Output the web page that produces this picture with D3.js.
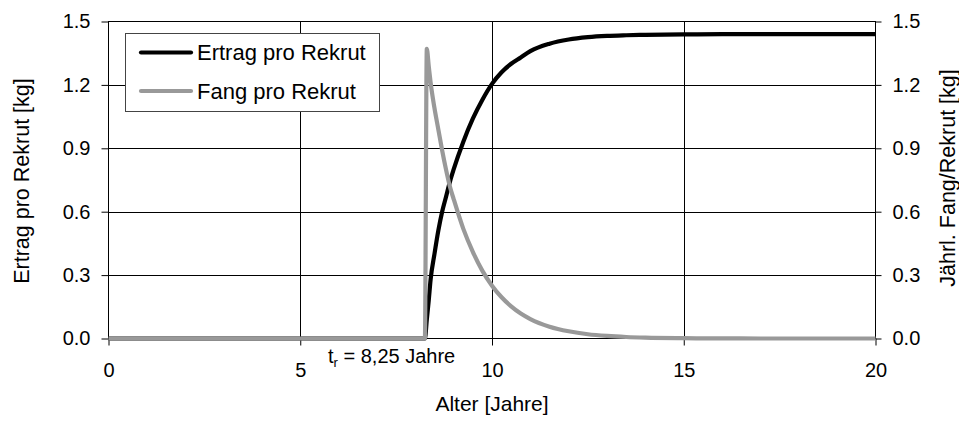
<!DOCTYPE html>
<html>
<head>
<meta charset="utf-8">
<script src="https://cdn.jsdelivr.net/npm/d3@7"></script>
<style>
  html, body { margin: 0; padding: 0; background: #fff; }
  svg { display: block; font-family: "Liberation Sans", Arial, Helvetica, sans-serif; }
</style>
</head>
<body>
<svg id="chart" width="959" height="421"></svg>
<script>
// ---- Data ----
const ages = [0, 8.25, 8.3, 8.35, 8.4, 8.5, 8.6, 8.7, 8.8, 8.9, 9.0, 9.25, 9.5, 9.75, 10,
  10.25, 10.5, 10.75, 11, 11.5, 12, 12.5, 13, 13.5, 14, 15, 16, 17, 18, 19, 20];
const ertragProRekrut = [0, 0, 0.09, 0.18, 0.28, 0.40, 0.51, 0.60, 0.67, 0.74, 0.80, 0.93, 1.04, 1.13, 1.205,
  1.26, 1.30, 1.33, 1.36, 1.395, 1.415, 1.426, 1.432, 1.435, 1.437, 1.439, 1.44, 1.44, 1.44, 1.44, 1.44];
const fangProRekrut = [0, 0, 1.37, 1.29, 1.21, 1.09, 0.99, 0.89, 0.80, 0.72, 0.66, 0.52, 0.41, 0.32, 0.25,
  0.195, 0.152, 0.118, 0.092, 0.056, 0.034, 0.02, 0.012, 0.007, 0.004, 0.0015, 0.0005, 0, 0, 0, 0];
const xTicks = [0, 5, 10, 15, 20];
const yTicks = [0, 0.3, 0.6, 0.9, 1.2, 1.5];
const seriesNames = ["Ertrag pro Rekrut", "Fang pro Rekrut"];
const seriesColors = ["#000000", "#999999"];
const xTitle = "Alter [Jahre]";
const yTitleLeft = "Ertrag pro Rekrut [kg]";
const yTitleRight = "Jährl. Fang/Rekrut [kg]";

// ---- Layout ----
const svg = d3.select("#chart");
const L = 108.5, R = 875.5, T = 21.5, B = 338.5;
const x = d3.scaleLinear().domain([0, 20]).range([L, R]);
const y = d3.scaleLinear().domain([0, 1.5]).range([B, T]);
const yR = d3.scaleLinear().domain([0, 1.5]).range([B, T]);

// gridlines
const g = svg.append("g");
g.selectAll("line.vg").data(xTicks.filter(d => d > 0 && d < 20)).join("line")
  .attr("x1", d => Math.round(x(d)) + 0.5).attr("x2", d => Math.round(x(d)) + 0.5)
  .attr("y1", T).attr("y2", B).attr("stroke", "#000").attr("stroke-width", 1);
g.selectAll("line.hg").data(yTicks.filter(d => d > 0 && d < 1.5)).join("line")
  .attr("y1", d => Math.round(y(d)) + 0.5).attr("y2", d => Math.round(y(d)) + 0.5)
  .attr("x1", L).attr("x2", R).attr("stroke", "#000").attr("stroke-width", 1);

// frame
svg.append("rect").attr("x", L).attr("y", T).attr("width", R - L).attr("height", B - T)
  .attr("fill", "none").attr("stroke", "#000").attr("stroke-width", 1);

// axes
const fmt = d3.format(".1f");
const axL = svg.append("g").attr("transform", `translate(${L},0)`)
  .call(d3.axisLeft(y).tickValues(yTicks).tickFormat(fmt).tickSize(7).tickPadding(11));
const axR = svg.append("g").attr("transform", `translate(${R},0)`)
  .call(d3.axisRight(yR).tickValues(yTicks).tickFormat(fmt).tickSize(6).tickPadding(11));
const axB = svg.append("g").attr("transform", `translate(0,${B})`)
  .call(d3.axisBottom(x).tickValues(xTicks).tickFormat(d3.format("d")).tickSize(7).tickPadding(17));
[axL, axR, axB].forEach(a => {
  a.select(".domain").remove();
  a.selectAll("text").attr("font-size", 20).attr("fill", "#000")
    .attr("font-family", "Liberation Sans, Arial, sans-serif");
  a.selectAll("line").attr("stroke", "#000");
});

// lines
const pts = (vals) => ages.map((a, i) => [a, vals[i]]);
const line = d3.line().x(d => x(d[0])).y(d => y(d[1])).curve(d3.curveMonotoneX);
svg.append("path").attr("d", line(pts(ertragProRekrut))).attr("fill", "none")
  .attr("stroke", seriesColors[0]).attr("stroke-width", 4.2).attr("stroke-linejoin", "round");
svg.append("path").attr("d", line(pts(fangProRekrut))).attr("fill", "none")
  .attr("stroke", seriesColors[1]).attr("stroke-width", 4.2).attr("stroke-linejoin", "round");

// legend
const lg = svg.append("g");
lg.append("rect").attr("x", 125.5).attr("y", 33.5).attr("width", 254).attr("height", 78)
  .attr("fill", "#fff").attr("stroke", "#444").attr("stroke-width", 1);
seriesNames.forEach((n, i) => {
  const yy = 52.5 + i * 38.5;
  lg.append("line").attr("x1", 141).attr("x2", 191).attr("y1", yy).attr("y2", yy)
    .attr("stroke", seriesColors[i]).attr("stroke-width", 4.2).attr("stroke-linecap", "round");
  lg.append("text").attr("x", 197).attr("y", yy).attr("dy", "0.35em")
    .attr("font-size", 22).text(n);
});

// axis titles
svg.append("text").attr("x", (L + R) / 2).attr("y", 411).attr("text-anchor", "middle")
  .attr("font-size", 21).text(xTitle);
svg.append("text").attr("transform", "translate(29,181) rotate(-90)").attr("text-anchor", "middle")
  .attr("font-size", 21.5).text(yTitleLeft);
svg.append("text").attr("transform", "translate(955,178) rotate(-90)").attr("text-anchor", "middle")
  .attr("font-size", 21.5).text(yTitleRight);

// annotation
const ann = svg.append("text").attr("x", 328).attr("y", 363).attr("font-size", 20);
ann.append("tspan").text("t");
ann.append("tspan").attr("font-size", 13).attr("dy", 4).text("r");
ann.append("tspan").attr("dy", -4).text(" = 8,25 Jahre");
</script>
</body>
</html>
